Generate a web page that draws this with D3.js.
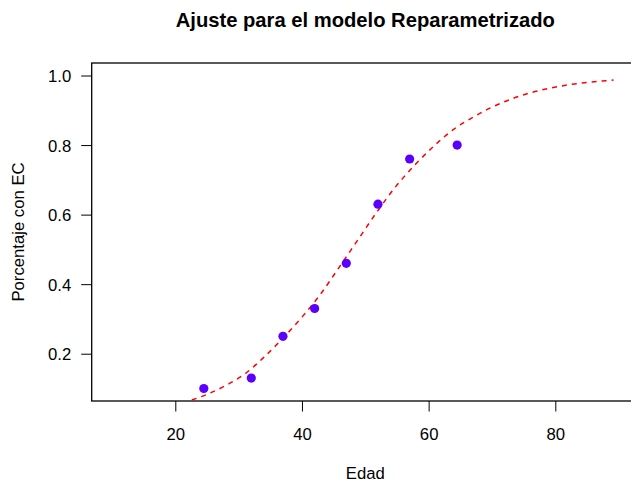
<!DOCTYPE html>
<html>
<head>
<meta charset="utf-8">
<script src="https://cdn.jsdelivr.net/npm/d3@7"></script>
<style>
  body { margin: 0; background: #fff; }
  svg { font-family: "Liberation Sans", Arial, sans-serif; }
</style>
</head>
<body>
<script>
// observed points (edad, porcentaje con EC)
var edad = [24.5, 32, 37, 42, 47, 52, 57, 64.5];
var porcentaje = [0.10, 0.13, 0.25, 0.33, 0.46, 0.63, 0.76, 0.80];

// fitted curve
var curveX = [22.6, 25, 28, 31, 34, 37, 40, 43, 46, 49, 52, 55, 58, 61, 64, 67, 70, 73, 76, 79, 82, 85, 88, 89.2];
var curveY = [0.067, 0.083, 0.109, 0.142, 0.19, 0.245, 0.305, 0.373, 0.452, 0.532, 0.612, 0.685, 0.746, 0.800, 0.846, 0.880, 0.909, 0.932, 0.950, 0.963, 0.973, 0.980, 0.985, 0.987];

var xTicks = [20, 40, 60, 80];
var yTicks = [0.2, 0.4, 0.6, 0.8, 1.0];

const WIDTH = 631;
const HEIGHT = 483;
const LEFT = 91.7, RIGHT = 638.9, TOP = 63, BOTTOM = 401;

// R style limits: xlim c(10,90), ylim c(0.1,1) with 4% padding
var xScale = d3.scaleLinear().domain([6.8, 93.2]).range([LEFT, RIGHT]);
var yScale = d3.scaleLinear().domain([0.064, 1.036]).range([BOTTOM, TOP]);

var svg = d3.select("body").append("svg")
    .attr("width", WIDTH)
    .attr("height", HEIGHT);

svg.append("defs").append("clipPath").attr("id", "plotclip")
    .append("rect")
    .attr("x", LEFT).attr("y", TOP)
    .attr("width", RIGHT - LEFT).attr("height", BOTTOM - TOP);

// axes
var xAxis = svg.append("g")
    .attr("transform", `translate(0,${BOTTOM})`)
    .call(d3.axisBottom(xScale).tickValues(xTicks).tickSize(10.5).tickPadding(17).tickFormat(d3.format("d")));
var yAxis = svg.append("g")
    .attr("transform", `translate(${LEFT},0)`)
    .call(d3.axisLeft(yScale).tickValues(yTicks).tickSize(10.5).tickPadding(10).tickFormat(d3.format(".1f")));

[xAxis, yAxis].forEach(g => {
    g.select(".domain").remove();
    g.selectAll("line").attr("stroke", "#000").attr("stroke-width", 1);
    g.selectAll("text")
        .attr("font-family", "Liberation Sans, Arial, sans-serif")
        .attr("font-size", "16.7px")
        .attr("fill", "#000");
});
yAxis.selectAll("text").attr("dy", "0.36em");

// box
svg.append("rect")
    .attr("x", LEFT).attr("y", TOP)
    .attr("width", RIGHT - LEFT).attr("height", BOTTOM - TOP)
    .attr("fill", "none")
    .attr("stroke", "#000")
    .attr("stroke-width", 1.3);

// fitted curve
var line = d3.line()
    .x(d => xScale(d[0]))
    .y(d => yScale(d[1]))
    .curve(d3.curveMonotoneX);

svg.append("path")
    .datum(d3.zip(curveX, curveY))
    .attr("clip-path", "url(#plotclip)")
    .attr("d", line)
    .attr("fill", "none")
    .attr("stroke", "#ff0000")
    .attr("stroke-width", 1.5)
    .attr("stroke-dasharray", "5,5");

// points
svg.selectAll("circle.pt")
    .data(d3.zip(edad, porcentaje))
    .enter()
    .append("circle")
    .attr("class", "pt")
    .attr("cx", d => xScale(d[0]))
    .attr("cy", d => yScale(d[1]))
    .attr("r", 4.6)
    .attr("fill", "#5a00ff");

// titles
var cx = (LEFT + RIGHT) / 2;
svg.append("text")
    .attr("x", cx).attr("y", 27)
    .attr("text-anchor", "middle")
    .attr("font-size", "20.2px")
    .attr("font-weight", "bold")
    .text("Ajuste para el modelo Reparametrizado");

svg.append("text")
    .attr("x", cx).attr("y", 478.5)
    .attr("text-anchor", "middle")
    .attr("font-size", "16.7px")
    .text("Edad");

svg.append("text")
    .attr("transform", `translate(24,${(TOP + BOTTOM) / 2}) rotate(-90)`)
    .attr("text-anchor", "middle")
    .attr("font-size", "16.7px")
    .text("Porcentaje con EC");
</script>
</body>
</html>
